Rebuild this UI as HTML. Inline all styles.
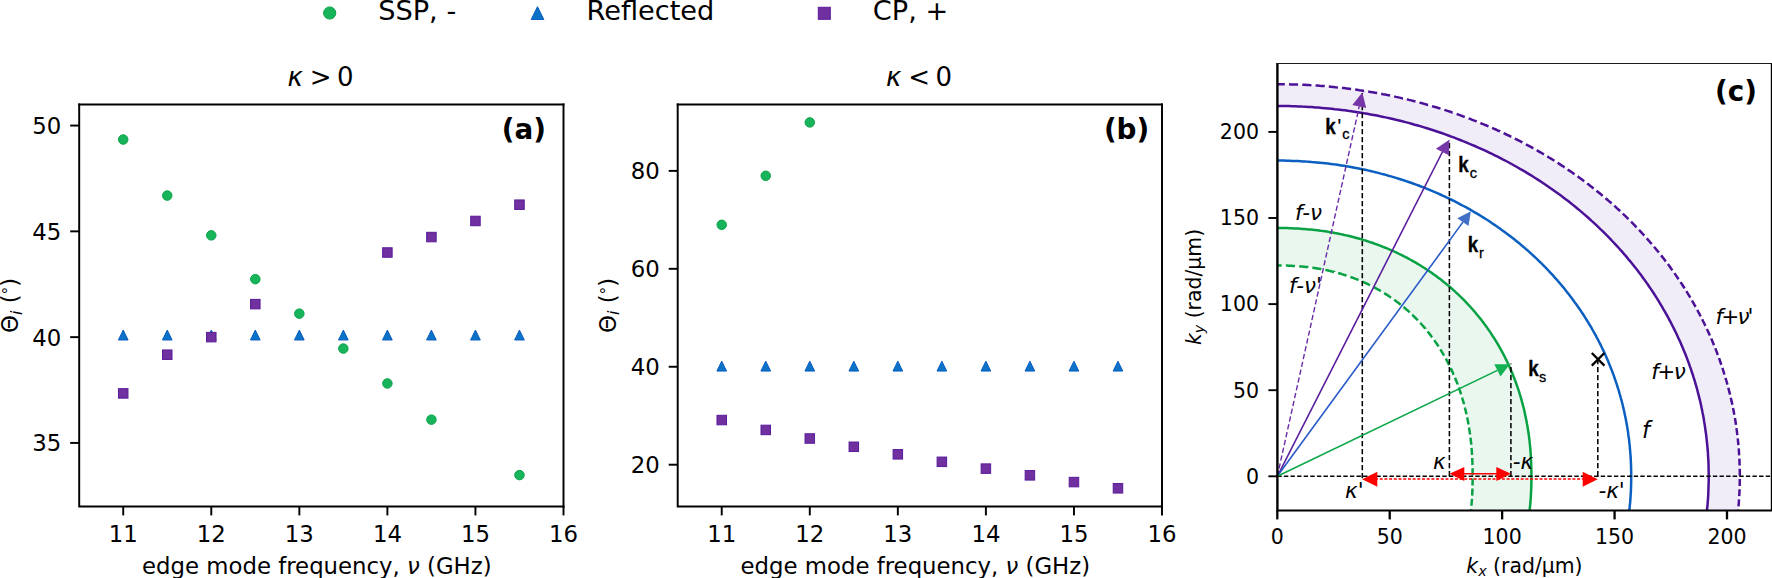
<!DOCTYPE html>
<html><head><meta charset="utf-8"><title>figure</title>
<style>html,body{margin:0;padding:0;background:#fff;overflow:hidden}svg{display:block}text{font-family:"DejaVu Sans", "Liberation Sans", sans-serif;}</style>
</head><body>
<svg width="1772" height="578" viewBox="0 0 1772 578">
<rect width="1772" height="578" fill="#fff"/>
<circle cx="329.70" cy="13.00" r="6.10" fill="#18b45c" stroke="#0aa347" stroke-width="1"/>
<text x="378.20" y="20.40" font-size="27.2" text-anchor="start" font-weight="normal" font-style="normal" fill="#000" >SSP, -</text>
<path d="M537.50 6.65 L543.80 19.45 L531.20 19.45 Z" fill="#0b72c8" stroke="#0a5cc0" stroke-width="1" stroke-linejoin="round"/>
<text x="586.50" y="20.40" font-size="27.2" text-anchor="start" font-weight="normal" font-style="normal" fill="#000" >Reflected</text>
<rect x="818.30" y="7.30" width="12.00" height="12.00" fill="#7030a0" stroke="#591b9b" stroke-width="1"/>
<text x="872.80" y="20.40" font-size="27.2" text-anchor="start" font-weight="normal" font-style="normal" fill="#000" >CP, +</text>
<circle cx="123.23" cy="139.52" r="4.75" fill="#18b45c" stroke="#0aa347" stroke-width="1"/>
<circle cx="167.25" cy="195.59" r="4.75" fill="#18b45c" stroke="#0aa347" stroke-width="1"/>
<circle cx="211.28" cy="235.37" r="4.75" fill="#18b45c" stroke="#0aa347" stroke-width="1"/>
<circle cx="255.31" cy="279.16" r="4.75" fill="#18b45c" stroke="#0aa347" stroke-width="1"/>
<circle cx="299.34" cy="313.65" r="4.75" fill="#18b45c" stroke="#0aa347" stroke-width="1"/>
<circle cx="343.36" cy="348.56" r="4.75" fill="#18b45c" stroke="#0aa347" stroke-width="1"/>
<circle cx="387.39" cy="383.47" r="4.75" fill="#18b45c" stroke="#0aa347" stroke-width="1"/>
<circle cx="431.42" cy="419.65" r="4.75" fill="#18b45c" stroke="#0aa347" stroke-width="1"/>
<circle cx="519.47" cy="475.09" r="4.75" fill="#18b45c" stroke="#0aa347" stroke-width="1"/>
<path d="M123.23 330.08 L128.08 339.98 L118.38 339.98 Z" fill="#0b72c8" stroke="#0a5cc0" stroke-width="1" stroke-linejoin="round"/>
<path d="M167.25 330.08 L172.10 339.98 L162.40 339.98 Z" fill="#0b72c8" stroke="#0a5cc0" stroke-width="1" stroke-linejoin="round"/>
<path d="M211.28 330.08 L216.13 339.98 L206.43 339.98 Z" fill="#0b72c8" stroke="#0a5cc0" stroke-width="1" stroke-linejoin="round"/>
<path d="M255.31 330.08 L260.16 339.98 L250.46 339.98 Z" fill="#0b72c8" stroke="#0a5cc0" stroke-width="1" stroke-linejoin="round"/>
<path d="M299.34 330.08 L304.19 339.98 L294.49 339.98 Z" fill="#0b72c8" stroke="#0a5cc0" stroke-width="1" stroke-linejoin="round"/>
<path d="M343.36 330.08 L348.21 339.98 L338.51 339.98 Z" fill="#0b72c8" stroke="#0a5cc0" stroke-width="1" stroke-linejoin="round"/>
<path d="M387.39 330.08 L392.24 339.98 L382.54 339.98 Z" fill="#0b72c8" stroke="#0a5cc0" stroke-width="1" stroke-linejoin="round"/>
<path d="M431.42 330.08 L436.27 339.98 L426.57 339.98 Z" fill="#0b72c8" stroke="#0a5cc0" stroke-width="1" stroke-linejoin="round"/>
<path d="M475.45 330.08 L480.30 339.98 L470.60 339.98 Z" fill="#0b72c8" stroke="#0a5cc0" stroke-width="1" stroke-linejoin="round"/>
<path d="M519.47 330.08 L524.32 339.98 L514.62 339.98 Z" fill="#0b72c8" stroke="#0a5cc0" stroke-width="1" stroke-linejoin="round"/>
<rect x="118.48" y="388.67" width="9.50" height="9.50" fill="#7030a0" stroke="#591b9b" stroke-width="1"/>
<rect x="162.50" y="349.95" width="9.50" height="9.50" fill="#7030a0" stroke="#591b9b" stroke-width="1"/>
<rect x="206.53" y="332.39" width="9.50" height="9.50" fill="#7030a0" stroke="#591b9b" stroke-width="1"/>
<rect x="250.56" y="299.38" width="9.50" height="9.50" fill="#7030a0" stroke="#591b9b" stroke-width="1"/>
<rect x="382.64" y="247.76" width="9.50" height="9.50" fill="#7030a0" stroke="#591b9b" stroke-width="1"/>
<rect x="426.67" y="232.31" width="9.50" height="9.50" fill="#7030a0" stroke="#591b9b" stroke-width="1"/>
<rect x="470.70" y="216.23" width="9.50" height="9.50" fill="#7030a0" stroke="#591b9b" stroke-width="1"/>
<rect x="514.72" y="199.94" width="9.50" height="9.50" fill="#7030a0" stroke="#591b9b" stroke-width="1"/>
<path d="M79.2 104.4 L79.2 506.4 L563.5 506.4" fill="none" stroke="#000" stroke-width="1.95" stroke-linecap="square"/>
<path d="M563.5 506.4 L563.5 104.4" fill="none" stroke="#000" stroke-width="1.95" stroke-linecap="square"/>
<path d="M79.2 104.4 L563.5 104.4" fill="none" stroke="#000" stroke-width="1.95" stroke-linecap="square"/>
<path d="M123.23 506.4 L123.23 515.4" stroke="#000" stroke-width="1.95"/>
<text x="123.23" y="541.90" font-size="22.8" text-anchor="middle" font-weight="normal" font-style="normal" fill="#000" >11</text>
<path d="M211.28 506.4 L211.28 515.4" stroke="#000" stroke-width="1.95"/>
<text x="211.28" y="541.90" font-size="22.8" text-anchor="middle" font-weight="normal" font-style="normal" fill="#000" >12</text>
<path d="M299.34 506.4 L299.34 515.4" stroke="#000" stroke-width="1.95"/>
<text x="299.34" y="541.90" font-size="22.8" text-anchor="middle" font-weight="normal" font-style="normal" fill="#000" >13</text>
<path d="M387.39 506.4 L387.39 515.4" stroke="#000" stroke-width="1.95"/>
<text x="387.39" y="541.90" font-size="22.8" text-anchor="middle" font-weight="normal" font-style="normal" fill="#000" >14</text>
<path d="M475.45 506.4 L475.45 515.4" stroke="#000" stroke-width="1.95"/>
<text x="475.45" y="541.90" font-size="22.8" text-anchor="middle" font-weight="normal" font-style="normal" fill="#000" >15</text>
<path d="M563.50 506.4 L563.50 515.4" stroke="#000" stroke-width="1.95"/>
<text x="563.50" y="541.90" font-size="22.8" text-anchor="middle" font-weight="normal" font-style="normal" fill="#000" >16</text>
<path d="M79.2 442.93 L70.2 442.93" stroke="#000" stroke-width="1.95"/>
<text x="61.20" y="451.33" font-size="22.8" text-anchor="end" font-weight="normal" font-style="normal" fill="#000" >35</text>
<path d="M79.2 337.14 L70.2 337.14" stroke="#000" stroke-width="1.95"/>
<text x="61.20" y="345.54" font-size="22.8" text-anchor="end" font-weight="normal" font-style="normal" fill="#000" >40</text>
<path d="M79.2 231.35 L70.2 231.35" stroke="#000" stroke-width="1.95"/>
<text x="61.20" y="239.75" font-size="22.8" text-anchor="end" font-weight="normal" font-style="normal" fill="#000" >45</text>
<path d="M79.2 125.56 L70.2 125.56" stroke="#000" stroke-width="1.95"/>
<text x="61.20" y="133.96" font-size="22.8" text-anchor="end" font-weight="normal" font-style="normal" fill="#000" >50</text>
<text x="0.00" y="86.30" font-size="26" text-anchor="start" font-weight="normal" font-style="normal" fill="#000" ><tspan x="287.5" font-style="italic">κ</tspan><tspan x="309.8">&gt;</tspan><tspan x="337.0">0</tspan></text>
<text x="546.00" y="139.20" font-size="27.8" text-anchor="end" font-weight="bold" font-style="normal" fill="#000" >(a)</text>
<text x="316.85" y="573.50" font-size="22.8" text-anchor="middle" font-weight="normal" font-style="normal" fill="#000" >edge mode frequency, <tspan font-style="italic">ν</tspan> (GHz)</text>
<g transform="translate(17.8,305.40) rotate(-90)">
<text x="0.00" y="0.00" font-size="22.8" text-anchor="middle" font-weight="normal" font-style="normal" fill="#000" >Θ<tspan font-style="italic" font-size="16" dy="3.8">i</tspan><tspan dy="-3.8"> (</tspan><tspan font-size="15.5" dy="-3.7">°</tspan><tspan dy="3.7">)</tspan></text>
</g>
<circle cx="721.73" cy="224.80" r="4.75" fill="#18b45c" stroke="#0aa347" stroke-width="1"/>
<circle cx="765.75" cy="175.78" r="4.75" fill="#18b45c" stroke="#0aa347" stroke-width="1"/>
<circle cx="809.78" cy="122.40" r="4.75" fill="#18b45c" stroke="#0aa347" stroke-width="1"/>
<path d="M721.73 361.17 L726.58 371.07 L716.88 371.07 Z" fill="#0b72c8" stroke="#0a5cc0" stroke-width="1" stroke-linejoin="round"/>
<path d="M765.75 361.17 L770.60 371.07 L760.90 371.07 Z" fill="#0b72c8" stroke="#0a5cc0" stroke-width="1" stroke-linejoin="round"/>
<path d="M809.78 361.17 L814.63 371.07 L804.93 371.07 Z" fill="#0b72c8" stroke="#0a5cc0" stroke-width="1" stroke-linejoin="round"/>
<path d="M853.81 361.17 L858.66 371.07 L848.96 371.07 Z" fill="#0b72c8" stroke="#0a5cc0" stroke-width="1" stroke-linejoin="round"/>
<path d="M897.84 361.17 L902.69 371.07 L892.99 371.07 Z" fill="#0b72c8" stroke="#0a5cc0" stroke-width="1" stroke-linejoin="round"/>
<path d="M941.86 361.17 L946.71 371.07 L937.01 371.07 Z" fill="#0b72c8" stroke="#0a5cc0" stroke-width="1" stroke-linejoin="round"/>
<path d="M985.89 361.17 L990.74 371.07 L981.04 371.07 Z" fill="#0b72c8" stroke="#0a5cc0" stroke-width="1" stroke-linejoin="round"/>
<path d="M1029.92 361.17 L1034.77 371.07 L1025.07 371.07 Z" fill="#0b72c8" stroke="#0a5cc0" stroke-width="1" stroke-linejoin="round"/>
<path d="M1073.95 361.17 L1078.80 371.07 L1069.10 371.07 Z" fill="#0b72c8" stroke="#0a5cc0" stroke-width="1" stroke-linejoin="round"/>
<path d="M1117.97 361.17 L1122.82 371.07 L1113.12 371.07 Z" fill="#0b72c8" stroke="#0a5cc0" stroke-width="1" stroke-linejoin="round"/>
<rect x="716.98" y="415.29" width="9.50" height="9.50" fill="#7030a0" stroke="#591b9b" stroke-width="1"/>
<rect x="761.00" y="425.18" width="9.50" height="9.50" fill="#7030a0" stroke="#591b9b" stroke-width="1"/>
<rect x="805.03" y="433.75" width="9.50" height="9.50" fill="#7030a0" stroke="#591b9b" stroke-width="1"/>
<rect x="849.06" y="442.03" width="9.50" height="9.50" fill="#7030a0" stroke="#591b9b" stroke-width="1"/>
<rect x="893.09" y="449.57" width="9.50" height="9.50" fill="#7030a0" stroke="#591b9b" stroke-width="1"/>
<rect x="937.11" y="457.06" width="9.50" height="9.50" fill="#7030a0" stroke="#591b9b" stroke-width="1"/>
<rect x="981.14" y="463.87" width="9.50" height="9.50" fill="#7030a0" stroke="#591b9b" stroke-width="1"/>
<rect x="1025.17" y="470.58" width="9.50" height="9.50" fill="#7030a0" stroke="#591b9b" stroke-width="1"/>
<rect x="1069.20" y="477.33" width="9.50" height="9.50" fill="#7030a0" stroke="#591b9b" stroke-width="1"/>
<rect x="1113.22" y="483.55" width="9.50" height="9.50" fill="#7030a0" stroke="#591b9b" stroke-width="1"/>
<path d="M677.7 104.4 L677.7 506.4 L1162.0 506.4" fill="none" stroke="#000" stroke-width="1.95" stroke-linecap="square"/>
<path d="M1162.0 506.4 L1162.0 104.4" fill="none" stroke="#000" stroke-width="1.95" stroke-linecap="square"/>
<path d="M677.7 104.4 L1162.0 104.4" fill="none" stroke="#000" stroke-width="1.95" stroke-linecap="square"/>
<path d="M721.73 506.4 L721.73 515.4" stroke="#000" stroke-width="1.95"/>
<text x="721.73" y="541.90" font-size="22.8" text-anchor="middle" font-weight="normal" font-style="normal" fill="#000" >11</text>
<path d="M809.78 506.4 L809.78 515.4" stroke="#000" stroke-width="1.95"/>
<text x="809.78" y="541.90" font-size="22.8" text-anchor="middle" font-weight="normal" font-style="normal" fill="#000" >12</text>
<path d="M897.84 506.4 L897.84 515.4" stroke="#000" stroke-width="1.95"/>
<text x="897.84" y="541.90" font-size="22.8" text-anchor="middle" font-weight="normal" font-style="normal" fill="#000" >13</text>
<path d="M985.89 506.4 L985.89 515.4" stroke="#000" stroke-width="1.95"/>
<text x="985.89" y="541.90" font-size="22.8" text-anchor="middle" font-weight="normal" font-style="normal" fill="#000" >14</text>
<path d="M1073.95 506.4 L1073.95 515.4" stroke="#000" stroke-width="1.95"/>
<text x="1073.95" y="541.90" font-size="22.8" text-anchor="middle" font-weight="normal" font-style="normal" fill="#000" >15</text>
<path d="M1162.00 506.4 L1162.00 515.4" stroke="#000" stroke-width="1.95"/>
<text x="1162.00" y="541.90" font-size="22.8" text-anchor="middle" font-weight="normal" font-style="normal" fill="#000" >16</text>
<path d="M677.7 464.70 L668.7 464.70" stroke="#000" stroke-width="1.95"/>
<text x="659.70" y="473.10" font-size="22.8" text-anchor="end" font-weight="normal" font-style="normal" fill="#000" >20</text>
<path d="M677.7 366.76 L668.7 366.76" stroke="#000" stroke-width="1.95"/>
<text x="659.70" y="375.16" font-size="22.8" text-anchor="end" font-weight="normal" font-style="normal" fill="#000" >40</text>
<path d="M677.7 268.82 L668.7 268.82" stroke="#000" stroke-width="1.95"/>
<text x="659.70" y="277.22" font-size="22.8" text-anchor="end" font-weight="normal" font-style="normal" fill="#000" >60</text>
<path d="M677.7 170.88 L668.7 170.88" stroke="#000" stroke-width="1.95"/>
<text x="659.70" y="179.28" font-size="22.8" text-anchor="end" font-weight="normal" font-style="normal" fill="#000" >80</text>
<text x="0.00" y="86.30" font-size="26" text-anchor="start" font-weight="normal" font-style="normal" fill="#000" ><tspan x="886.0" font-style="italic">κ</tspan><tspan x="908.3">&lt;</tspan><tspan x="935.5">0</tspan></text>
<text x="1149.20" y="139.20" font-size="27.8" text-anchor="end" font-weight="bold" font-style="normal" fill="#000" >(b)</text>
<text x="915.35" y="573.50" font-size="22.8" text-anchor="middle" font-weight="normal" font-style="normal" fill="#000" >edge mode frequency, <tspan font-style="italic">ν</tspan> (GHz)</text>
<g transform="translate(615.6,305.40) rotate(-90)">
<text x="0.00" y="0.00" font-size="22.8" text-anchor="middle" font-weight="normal" font-style="normal" fill="#000" >Θ<tspan font-style="italic" font-size="16" dy="3.8">i</tspan><tspan dy="-3.8"> (</tspan><tspan font-size="15.5" dy="-3.7">°</tspan><tspan dy="3.7">)</tspan></text>
</g>
<clipPath id="clipc"><rect x="1277.4" y="63.5" width="494.5999999999999" height="447.0"/></clipPath>
<g clip-path="url(#clipc)">
<path d="M1270.8 228.0 L1273.2 228.0 L1275.6 228.0 L1278.3 228.0 L1280.7 228.0 L1283.1 228.0 L1285.4 228.1 L1287.6 228.1 L1289.8 228.2 L1292.0 228.3 L1294.2 228.4 L1296.3 228.5 L1298.4 228.6 L1300.5 228.7 L1302.6 228.9 L1304.7 229.0 L1306.8 229.2 L1308.8 229.4 L1310.9 229.6 L1312.9 229.8 L1315.0 230.0 L1317.0 230.2 L1319.0 230.5 L1321.0 230.8 L1323.0 231.0 L1325.0 231.3 L1327.0 231.6 L1328.9 231.9 L1330.9 232.3 L1332.8 232.6 L1334.8 233.0 L1336.7 233.3 L1338.7 233.7 L1340.6 234.1 L1342.5 234.5 L1344.4 235.0 L1346.3 235.4 L1348.2 235.8 L1350.1 236.3 L1352.0 236.8 L1353.9 237.3 L1355.8 237.8 L1357.6 238.3 L1359.5 238.8 L1361.3 239.3 L1363.2 239.9 L1365.0 240.4 L1366.8 241.0 L1368.6 241.6 L1370.5 242.2 L1372.3 242.8 L1374.1 243.5 L1375.8 244.1 L1377.6 244.7 L1379.4 245.4 L1381.2 246.1 L1382.9 246.8 L1384.7 247.5 L1386.4 248.2 L1388.2 248.9 L1389.9 249.7 L1391.6 250.4 L1393.3 251.2 L1395.0 251.9 L1396.7 252.7 L1398.4 253.5 L1400.1 254.4 L1401.8 255.2 L1403.5 256.0 L1405.1 256.9 L1406.8 257.7 L1408.4 258.6 L1410.0 259.5 L1411.7 260.4 L1413.3 261.3 L1414.9 262.2 L1416.5 263.1 L1418.1 264.1 L1419.7 265.0 L1421.2 266.0 L1422.8 267.0 L1424.4 268.0 L1425.9 269.0 L1427.4 270.0 L1429.0 271.0 L1430.5 272.1 L1432.0 273.1 L1433.5 274.2 L1435.0 275.2 L1436.5 276.3 L1437.9 277.4 L1439.4 278.5 L1440.9 279.6 L1442.3 280.7 L1443.7 281.9 L1445.2 283.0 L1446.6 284.2 L1448.0 285.4 L1449.4 286.5 L1450.8 287.7 L1452.1 288.9 L1453.5 290.1 L1454.9 291.4 L1456.2 292.6 L1457.5 293.8 L1458.9 295.1 L1460.2 296.4 L1461.5 297.6 L1462.8 298.9 L1464.1 300.2 L1465.3 301.5 L1466.6 302.8 L1467.8 304.1 L1469.1 305.5 L1470.3 306.8 L1471.5 308.2 L1472.7 309.5 L1473.9 310.9 L1475.1 312.3 L1476.3 313.7 L1477.4 315.1 L1478.6 316.5 L1479.7 317.9 L1480.9 319.3 L1482.0 320.8 L1483.1 322.2 L1484.2 323.7 L1485.3 325.2 L1486.3 326.6 L1487.4 328.1 L1488.4 329.6 L1489.5 331.1 L1490.5 332.6 L1491.5 334.1 L1492.5 335.7 L1493.5 337.2 L1494.5 338.8 L1495.5 340.3 L1496.4 341.9 L1497.4 343.5 L1498.3 345.0 L1499.2 346.6 L1500.1 348.2 L1501.0 349.8 L1501.9 351.4 L1502.8 353.1 L1503.6 354.7 L1504.5 356.3 L1505.3 358.0 L1506.1 359.6 L1506.9 361.3 L1507.7 362.9 L1508.5 364.6 L1509.3 366.3 L1510.0 368.0 L1510.8 369.7 L1511.5 371.4 L1512.2 373.1 L1512.9 374.8 L1513.6 376.6 L1514.3 378.3 L1514.9 380.0 L1515.6 381.8 L1516.2 383.5 L1516.9 385.3 L1517.5 387.1 L1518.1 388.9 L1518.7 390.6 L1519.3 392.4 L1519.8 394.2 L1520.4 396.0 L1520.9 397.9 L1521.4 399.7 L1521.9 401.5 L1522.4 403.3 L1522.9 405.2 L1523.4 407.0 L1523.9 408.9 L1524.3 410.7 L1524.7 412.6 L1525.1 414.5 L1525.5 416.4 L1525.9 418.3 L1526.3 420.2 L1526.7 422.1 L1527.0 424.0 L1527.4 425.9 L1527.7 427.8 L1528.0 429.8 L1528.3 431.7 L1528.6 433.6 L1528.9 435.6 L1529.1 437.6 L1529.4 439.5 L1529.6 441.5 L1529.8 443.5 L1530.0 445.5 L1530.2 447.5 L1530.4 449.6 L1530.5 451.6 L1530.7 453.6 L1530.8 455.7 L1530.9 457.8 L1531.0 459.9 L1531.1 462.0 L1531.2 464.1 L1531.3 466.3 L1531.3 468.5 L1531.4 470.7 L1531.4 473.0 L1531.4 475.4 L1531.4 478.0 L1531.4 480.4 L1531.4 482.7 L1531.3 484.9 L1531.3 487.0 L1531.2 489.2 L1531.1 491.3 L1531.0 493.4 L1530.9 495.5 L1530.8 497.6 L1530.6 499.6 L1530.5 501.7 L1530.3 503.7 L1530.1 505.7 L1529.9 507.7 L1529.7 509.7 L1529.5 511.7 L1529.3 513.7 L1529.0 515.7 L1528.8 517.6 L1528.5 519.6 L1528.2 521.5 L1527.9 523.5 L1527.6 525.4 L1527.3 527.3 L1526.9 529.3 L1526.6 531.2 L1526.2 533.1 L1525.8 535.0 L1525.4 536.9 L1525.0 538.7 L1524.6 540.6 L1524.1 542.5 L1523.7 544.3 L1523.2 546.2 L1522.8 548.0 L1522.3 549.9 L1521.8 551.7 L1521.3 553.5 L1520.7 555.3 L1464.7 545.9 L1465.0 544.3 L1465.4 542.8 L1465.8 541.2 L1466.2 539.7 L1466.5 538.1 L1466.9 536.5 L1467.2 534.9 L1467.5 533.3 L1467.8 531.7 L1468.1 530.1 L1468.4 528.4 L1468.7 526.8 L1469.0 525.2 L1469.3 523.5 L1469.5 521.9 L1469.8 520.2 L1470.0 518.5 L1470.2 516.9 L1470.4 515.2 L1470.6 513.5 L1470.8 511.7 L1471.0 510.0 L1471.2 508.3 L1471.4 506.6 L1471.5 504.8 L1471.7 503.0 L1471.8 501.3 L1471.9 499.5 L1472.0 497.7 L1472.1 495.8 L1472.2 494.0 L1472.3 492.1 L1472.4 490.2 L1472.4 488.3 L1472.5 486.4 L1472.5 484.4 L1472.6 482.4 L1472.6 480.3 L1472.6 478.0 L1472.6 475.4 L1472.6 473.1 L1472.6 470.9 L1472.5 468.9 L1472.5 466.9 L1472.5 464.9 L1472.4 463.0 L1472.3 461.1 L1472.2 459.2 L1472.2 457.4 L1472.1 455.5 L1471.9 453.7 L1471.8 451.9 L1471.7 450.2 L1471.6 448.4 L1471.4 446.6 L1471.2 444.9 L1471.1 443.1 L1470.9 441.4 L1470.7 439.7 L1470.5 438.0 L1470.3 436.3 L1470.1 434.6 L1469.8 432.9 L1469.6 431.3 L1469.3 429.6 L1469.1 428.0 L1468.8 426.3 L1468.5 424.7 L1468.2 423.1 L1467.9 421.5 L1467.6 419.8 L1467.3 418.2 L1467.0 416.6 L1466.6 415.1 L1466.3 413.5 L1465.9 411.9 L1465.6 410.3 L1465.2 408.8 L1464.8 407.2 L1464.4 405.7 L1464.0 404.1 L1463.6 402.6 L1463.1 401.1 L1462.7 399.6 L1462.2 398.0 L1461.8 396.5 L1461.3 395.0 L1460.8 393.6 L1460.3 392.1 L1459.8 390.6 L1459.3 389.1 L1458.8 387.7 L1458.3 386.2 L1457.8 384.8 L1457.2 383.3 L1456.7 381.9 L1456.1 380.5 L1455.5 379.0 L1454.9 377.6 L1454.3 376.2 L1453.7 374.8 L1453.1 373.4 L1452.5 372.1 L1451.9 370.7 L1451.2 369.3 L1450.6 367.9 L1449.9 366.6 L1449.3 365.2 L1448.6 363.9 L1447.9 362.6 L1447.2 361.2 L1446.5 359.9 L1445.8 358.6 L1445.1 357.3 L1444.3 356.0 L1443.6 354.7 L1442.8 353.5 L1442.1 352.2 L1441.3 350.9 L1440.5 349.7 L1439.8 348.4 L1439.0 347.2 L1438.2 345.9 L1437.4 344.7 L1436.5 343.5 L1435.7 342.3 L1434.9 341.1 L1434.0 339.9 L1433.2 338.7 L1432.3 337.5 L1431.4 336.4 L1430.6 335.2 L1429.7 334.1 L1428.8 332.9 L1427.9 331.8 L1426.9 330.7 L1426.0 329.5 L1425.1 328.4 L1424.2 327.3 L1423.2 326.2 L1422.3 325.2 L1421.3 324.1 L1420.3 323.0 L1419.3 322.0 L1418.3 320.9 L1417.4 319.9 L1416.4 318.8 L1415.3 317.8 L1414.3 316.8 L1413.3 315.8 L1412.3 314.8 L1411.2 313.8 L1410.2 312.8 L1409.1 311.9 L1408.0 310.9 L1407.0 310.0 L1405.9 309.0 L1404.8 308.1 L1403.7 307.2 L1402.6 306.2 L1401.5 305.3 L1400.4 304.4 L1399.2 303.6 L1398.1 302.7 L1397.0 301.8 L1395.8 301.0 L1394.6 300.1 L1393.5 299.3 L1392.3 298.4 L1391.1 297.6 L1390.0 296.8 L1388.8 296.0 L1387.6 295.2 L1386.4 294.5 L1385.1 293.7 L1383.9 292.9 L1382.7 292.2 L1381.5 291.4 L1380.2 290.7 L1379.0 290.0 L1377.7 289.3 L1376.5 288.6 L1375.2 287.9 L1373.9 287.2 L1372.6 286.5 L1371.3 285.9 L1370.0 285.2 L1368.7 284.6 L1367.4 283.9 L1366.1 283.3 L1364.8 282.7 L1363.5 282.1 L1362.1 281.5 L1360.8 281.0 L1359.4 280.4 L1358.1 279.8 L1356.7 279.3 L1355.4 278.7 L1354.0 278.2 L1352.6 277.7 L1351.2 277.2 L1349.8 276.7 L1348.4 276.2 L1347.0 275.7 L1345.6 275.3 L1344.2 274.8 L1342.8 274.4 L1341.3 273.9 L1339.9 273.5 L1338.5 273.1 L1337.0 272.7 L1335.5 272.3 L1334.1 271.9 L1332.6 271.6 L1331.1 271.2 L1329.6 270.9 L1328.1 270.5 L1326.6 270.2 L1325.1 269.9 L1323.6 269.6 L1322.1 269.3 L1320.6 269.0 L1319.0 268.7 L1317.5 268.5 L1315.9 268.2 L1314.4 268.0 L1312.8 267.8 L1311.2 267.6 L1309.6 267.3 L1308.1 267.1 L1306.4 267.0 L1304.8 266.8 L1303.2 266.6 L1301.6 266.5 L1299.9 266.3 L1298.2 266.2 L1296.6 266.1 L1294.9 266.0 L1293.2 265.9 L1291.4 265.8 L1289.7 265.7 L1287.9 265.7 L1286.1 265.6 L1284.2 265.6 L1282.3 265.5 L1280.3 265.5 L1278.2 265.5 L1275.8 265.5 L1273.7 265.5 L1271.7 265.5 Z" fill="#e9f7ef"/>
<path d="M1267.7 84.3 L1271.3 84.2 L1274.9 84.2 L1278.6 84.2 L1282.3 84.2 L1285.9 84.3 L1289.5 84.3 L1293.1 84.4 L1296.6 84.5 L1300.2 84.6 L1303.8 84.8 L1307.3 85.0 L1310.9 85.2 L1314.4 85.4 L1317.9 85.6 L1321.5 85.9 L1325.0 86.2 L1328.5 86.5 L1332.0 86.8 L1335.6 87.2 L1339.1 87.5 L1342.6 87.9 L1346.1 88.4 L1349.6 88.8 L1353.0 89.3 L1356.5 89.7 L1360.0 90.2 L1363.4 90.8 L1366.9 91.3 L1370.4 91.9 L1373.8 92.5 L1377.2 93.1 L1380.7 93.7 L1384.1 94.4 L1387.5 95.1 L1390.9 95.8 L1394.3 96.5 L1397.7 97.2 L1401.1 98.0 L1404.5 98.8 L1407.9 99.6 L1411.2 100.4 L1414.6 101.3 L1417.9 102.1 L1421.3 103.0 L1424.6 104.0 L1427.9 104.9 L1431.2 105.8 L1434.5 106.8 L1437.8 107.8 L1441.1 108.8 L1444.4 109.9 L1447.7 110.9 L1450.9 112.0 L1454.1 113.1 L1457.4 114.3 L1460.6 115.4 L1463.8 116.6 L1467.0 117.7 L1470.2 118.9 L1473.4 120.2 L1476.5 121.4 L1479.7 122.7 L1482.8 124.0 L1486.0 125.3 L1489.1 126.6 L1492.2 127.9 L1495.3 129.3 L1498.3 130.7 L1501.4 132.1 L1504.5 133.5 L1507.5 135.0 L1510.5 136.4 L1513.5 137.9 L1516.5 139.4 L1519.5 140.9 L1522.5 142.5 L1525.4 144.0 L1528.4 145.6 L1531.3 147.2 L1534.2 148.8 L1537.1 150.5 L1540.0 152.1 L1542.9 153.8 L1545.7 155.5 L1548.6 157.2 L1551.4 158.9 L1554.2 160.6 L1557.0 162.4 L1559.7 164.2 L1562.5 166.0 L1565.2 167.8 L1568.0 169.6 L1570.7 171.5 L1573.4 173.3 L1576.0 175.2 L1578.7 177.1 L1581.3 179.1 L1583.9 181.0 L1586.5 182.9 L1589.1 184.9 L1591.7 186.9 L1594.2 188.9 L1596.8 190.9 L1599.3 193.0 L1601.8 195.0 L1604.3 197.1 L1606.7 199.2 L1609.2 201.3 L1611.6 203.4 L1614.0 205.5 L1616.4 207.6 L1618.7 209.8 L1621.1 212.0 L1623.4 214.2 L1625.7 216.4 L1628.0 218.6 L1630.2 220.8 L1632.5 223.1 L1634.7 225.4 L1636.9 227.6 L1639.1 229.9 L1641.2 232.2 L1643.4 234.6 L1645.5 236.9 L1647.6 239.3 L1649.7 241.6 L1651.7 244.0 L1653.8 246.4 L1655.8 248.8 L1657.8 251.2 L1659.7 253.6 L1661.7 256.1 L1663.6 258.5 L1665.5 261.0 L1667.4 263.5 L1669.3 266.0 L1671.1 268.5 L1672.9 271.0 L1674.7 273.5 L1676.5 276.1 L1678.2 278.6 L1680.0 281.2 L1681.7 283.8 L1683.3 286.4 L1685.0 289.0 L1686.6 291.6 L1688.2 294.2 L1689.8 296.8 L1691.4 299.5 L1692.9 302.1 L1694.4 304.8 L1695.9 307.4 L1697.4 310.1 L1698.8 312.8 L1700.3 315.5 L1701.7 318.2 L1703.0 321.0 L1704.4 323.7 L1705.7 326.4 L1707.0 329.2 L1708.3 331.9 L1709.5 334.7 L1710.8 337.5 L1712.0 340.3 L1713.1 343.0 L1714.3 345.8 L1715.4 348.7 L1716.5 351.5 L1717.6 354.3 L1718.7 357.1 L1719.7 360.0 L1720.7 362.8 L1721.7 365.7 L1722.6 368.5 L1723.5 371.4 L1724.4 374.3 L1725.3 377.1 L1726.2 380.0 L1727.0 382.9 L1727.8 385.8 L1728.6 388.7 L1729.3 391.6 L1730.0 394.5 L1730.7 397.5 L1731.4 400.4 L1732.1 403.3 L1732.7 406.3 L1733.3 409.2 L1733.9 412.2 L1734.4 415.1 L1734.9 418.1 L1735.4 421.0 L1735.9 424.0 L1736.3 427.0 L1736.7 429.9 L1737.1 432.9 L1737.5 435.9 L1737.8 438.9 L1738.1 441.9 L1738.4 444.9 L1738.7 447.9 L1738.9 450.9 L1739.1 453.9 L1739.3 456.9 L1739.4 460.0 L1739.6 463.0 L1739.7 466.0 L1739.7 469.1 L1739.8 472.2 L1739.8 475.2 L1739.8 478.4 L1739.8 481.5 L1739.7 484.5 L1739.6 487.6 L1739.5 490.6 L1739.4 493.6 L1739.2 496.7 L1739.0 499.7 L1738.8 502.7 L1738.6 505.7 L1738.3 508.7 L1738.0 511.7 L1737.7 514.7 L1737.4 517.7 L1737.0 520.7 L1736.6 523.6 L1736.2 526.6 L1735.7 529.6 L1735.2 532.6 L1734.7 535.5 L1734.2 538.5 L1733.7 541.4 L1733.1 544.4 L1732.5 547.3 L1731.9 550.2 L1731.2 553.2 L1730.5 556.1 L1729.8 559.0 L1729.1 561.9 L1728.3 564.8 L1727.5 567.7 L1726.7 570.6 L1725.9 573.5 L1725.0 576.4 L1724.1 579.3 L1723.2 582.2 L1722.3 585.0 L1721.3 587.9 L1720.4 590.7 L1719.3 593.6 L1689.6 587.1 L1690.6 584.4 L1691.5 581.7 L1692.4 579.0 L1693.3 576.3 L1694.1 573.6 L1694.9 570.9 L1695.7 568.1 L1696.5 565.4 L1697.3 562.7 L1698.0 559.9 L1698.7 557.2 L1699.4 554.4 L1700.0 551.7 L1700.7 548.9 L1701.3 546.1 L1701.9 543.4 L1702.4 540.6 L1703.0 537.8 L1703.5 535.0 L1704.0 532.2 L1704.5 529.4 L1704.9 526.6 L1705.3 523.8 L1705.7 521.0 L1706.1 518.2 L1706.4 515.4 L1706.7 512.6 L1707.0 509.7 L1707.3 506.9 L1707.6 504.1 L1707.8 501.2 L1708.0 498.4 L1708.2 495.5 L1708.3 492.7 L1708.4 489.8 L1708.5 486.9 L1708.6 484.1 L1708.7 481.2 L1708.7 478.3 L1708.7 475.3 L1708.7 472.4 L1708.6 469.5 L1708.6 466.6 L1708.5 463.7 L1708.4 460.9 L1708.2 458.0 L1708.0 455.2 L1707.9 452.3 L1707.6 449.5 L1707.4 446.6 L1707.1 443.8 L1706.8 441.0 L1706.5 438.2 L1706.2 435.3 L1705.8 432.5 L1705.4 429.7 L1705.0 426.9 L1704.6 424.1 L1704.1 421.3 L1703.7 418.5 L1703.2 415.7 L1702.6 412.9 L1702.1 410.2 L1701.5 407.4 L1700.9 404.6 L1700.3 401.8 L1699.6 399.1 L1698.9 396.3 L1698.2 393.6 L1697.5 390.8 L1696.8 388.1 L1696.0 385.4 L1695.2 382.6 L1694.4 379.9 L1693.5 377.2 L1692.7 374.5 L1691.8 371.8 L1690.9 369.1 L1689.9 366.4 L1689.0 363.7 L1688.0 361.1 L1687.0 358.4 L1686.0 355.8 L1684.9 353.1 L1683.8 350.5 L1682.7 347.8 L1681.6 345.2 L1680.5 342.6 L1679.3 340.0 L1678.1 337.4 L1676.9 334.8 L1675.7 332.2 L1674.4 329.6 L1673.1 327.0 L1671.8 324.5 L1670.5 321.9 L1669.1 319.4 L1667.8 316.8 L1666.4 314.3 L1665.0 311.8 L1663.5 309.3 L1662.1 306.8 L1660.6 304.3 L1659.1 301.8 L1657.6 299.4 L1656.0 296.9 L1654.5 294.5 L1652.9 292.0 L1651.3 289.6 L1649.6 287.2 L1648.0 284.8 L1646.3 282.4 L1644.6 280.0 L1642.9 277.7 L1641.2 275.3 L1639.4 273.0 L1637.6 270.6 L1635.8 268.3 L1634.0 266.0 L1632.2 263.7 L1630.3 261.4 L1628.4 259.2 L1626.6 256.9 L1624.6 254.7 L1622.7 252.4 L1620.7 250.2 L1618.8 248.0 L1616.8 245.8 L1614.7 243.6 L1612.7 241.5 L1610.7 239.3 L1608.6 237.2 L1606.5 235.0 L1604.4 232.9 L1602.3 230.8 L1600.1 228.8 L1597.9 226.7 L1595.8 224.6 L1593.6 222.6 L1591.3 220.6 L1589.1 218.5 L1586.8 216.5 L1584.6 214.6 L1582.3 212.6 L1580.0 210.6 L1577.6 208.7 L1575.3 206.8 L1572.9 204.9 L1570.6 203.0 L1568.2 201.1 L1565.7 199.3 L1563.3 197.4 L1560.9 195.6 L1558.4 193.8 L1555.9 192.0 L1553.4 190.2 L1550.9 188.4 L1548.4 186.7 L1545.9 185.0 L1543.3 183.2 L1540.7 181.5 L1538.2 179.9 L1535.6 178.2 L1532.9 176.5 L1530.3 174.9 L1527.7 173.3 L1525.0 171.7 L1522.3 170.1 L1519.6 168.6 L1516.9 167.0 L1514.2 165.5 L1511.5 164.0 L1508.8 162.5 L1506.0 161.0 L1503.2 159.6 L1500.4 158.1 L1497.6 156.7 L1494.8 155.3 L1492.0 153.9 L1489.2 152.6 L1486.3 151.2 L1483.5 149.9 L1480.6 148.6 L1477.7 147.3 L1474.8 146.0 L1471.9 144.8 L1469.0 143.6 L1466.1 142.3 L1463.1 141.2 L1460.2 140.0 L1457.2 138.8 L1454.3 137.7 L1451.3 136.6 L1448.3 135.5 L1445.3 134.4 L1442.3 133.3 L1439.2 132.3 L1436.2 131.3 L1433.2 130.3 L1430.1 129.3 L1427.0 128.3 L1424.0 127.4 L1420.9 126.4 L1417.8 125.5 L1414.7 124.7 L1411.6 123.8 L1408.5 122.9 L1405.4 122.1 L1402.2 121.3 L1399.1 120.5 L1396.0 119.8 L1392.8 119.0 L1389.6 118.3 L1386.5 117.6 L1383.3 116.9 L1380.1 116.3 L1376.9 115.6 L1373.7 115.0 L1370.5 114.4 L1367.3 113.8 L1364.1 113.3 L1360.9 112.7 L1357.7 112.2 L1354.4 111.7 L1351.2 111.2 L1347.9 110.8 L1344.7 110.3 L1341.4 109.9 L1338.2 109.5 L1334.9 109.2 L1331.6 108.8 L1328.4 108.5 L1325.1 108.2 L1321.8 107.9 L1318.5 107.6 L1315.2 107.4 L1311.9 107.1 L1308.6 106.9 L1305.3 106.7 L1302.0 106.6 L1298.7 106.4 L1295.3 106.3 L1292.0 106.2 L1288.7 106.1 L1285.3 106.1 L1281.9 106.0 L1278.5 106.0 L1275.1 106.0 L1271.7 106.0 L1268.3 106.1 Z" fill="#f1edf8"/>
<path d="M1269.7 160.7 L1272.6 160.6 L1275.4 160.6 L1278.4 160.6 L1281.2 160.6 L1284.1 160.6 L1286.9 160.7 L1289.7 160.8 L1292.4 160.9 L1295.2 161.0 L1298.0 161.1 L1300.7 161.2 L1303.5 161.4 L1306.2 161.6 L1309.0 161.7 L1311.7 162.0 L1314.4 162.2 L1317.1 162.4 L1319.9 162.7 L1322.6 163.0 L1325.3 163.3 L1328.0 163.6 L1330.7 163.9 L1333.3 164.3 L1336.0 164.6 L1338.7 165.0 L1341.4 165.4 L1344.0 165.8 L1346.7 166.3 L1349.4 166.7 L1352.0 167.2 L1354.6 167.7 L1357.3 168.2 L1359.9 168.7 L1362.5 169.3 L1365.2 169.8 L1367.8 170.4 L1370.4 171.0 L1373.0 171.6 L1375.6 172.3 L1378.2 172.9 L1380.7 173.6 L1383.3 174.2 L1385.9 174.9 L1388.4 175.7 L1391.0 176.4 L1393.5 177.1 L1396.1 177.9 L1398.6 178.7 L1401.1 179.5 L1403.6 180.3 L1406.1 181.1 L1408.6 182.0 L1411.1 182.8 L1413.6 183.7 L1416.1 184.6 L1418.5 185.5 L1421.0 186.5 L1423.4 187.4 L1425.9 188.4 L1428.3 189.4 L1430.7 190.4 L1433.1 191.4 L1435.5 192.4 L1437.9 193.4 L1440.3 194.5 L1442.7 195.6 L1445.0 196.7 L1447.4 197.8 L1449.7 198.9 L1452.0 200.0 L1454.4 201.2 L1456.7 202.4 L1459.0 203.6 L1461.2 204.8 L1463.5 206.0 L1465.8 207.2 L1468.0 208.4 L1470.3 209.7 L1472.5 211.0 L1474.7 212.3 L1477.0 213.6 L1479.2 214.9 L1481.3 216.2 L1483.5 217.6 L1485.7 219.0 L1487.8 220.3 L1490.0 221.7 L1492.1 223.2 L1494.2 224.6 L1496.3 226.0 L1498.4 227.5 L1500.5 228.9 L1502.5 230.4 L1504.6 231.9 L1506.6 233.4 L1508.6 234.9 L1510.7 236.5 L1512.6 238.0 L1514.6 239.6 L1516.6 241.2 L1518.6 242.8 L1520.5 244.4 L1522.4 246.0 L1524.3 247.6 L1526.2 249.3 L1528.1 250.9 L1530.0 252.6 L1531.9 254.3 L1533.7 256.0 L1535.5 257.7 L1537.3 259.4 L1539.1 261.1 L1540.9 262.9 L1542.7 264.6 L1544.4 266.4 L1546.2 268.2 L1547.9 270.0 L1549.6 271.8 L1551.3 273.6 L1553.0 275.4 L1554.6 277.3 L1556.3 279.1 L1557.9 281.0 L1559.5 282.8 L1561.1 284.7 L1562.7 286.6 L1564.3 288.5 L1565.8 290.5 L1567.3 292.4 L1568.8 294.3 L1570.3 296.3 L1571.8 298.2 L1573.3 300.2 L1574.7 302.2 L1576.2 304.2 L1577.6 306.2 L1579.0 308.2 L1580.4 310.2 L1581.7 312.3 L1583.1 314.3 L1584.4 316.3 L1585.7 318.4 L1587.0 320.5 L1588.3 322.6 L1589.5 324.6 L1590.8 326.7 L1592.0 328.8 L1593.2 331.0 L1594.4 333.1 L1595.6 335.2 L1596.7 337.4 L1597.9 339.5 L1599.0 341.7 L1600.1 343.8 L1601.2 346.0 L1602.2 348.2 L1603.3 350.4 L1604.3 352.6 L1605.3 354.8 L1606.3 357.0 L1607.3 359.2 L1608.2 361.4 L1609.1 363.7 L1610.0 365.9 L1610.9 368.2 L1611.8 370.4 L1612.7 372.7 L1613.5 374.9 L1614.3 377.2 L1615.1 379.5 L1615.9 381.8 L1616.7 384.1 L1617.4 386.4 L1618.1 388.7 L1618.9 391.0 L1619.5 393.3 L1620.2 395.6 L1620.8 398.0 L1621.5 400.3 L1622.1 402.7 L1622.7 405.0 L1623.2 407.4 L1623.8 409.7 L1624.3 412.1 L1624.8 414.4 L1625.3 416.8 L1625.8 419.2 L1626.2 421.6 L1626.7 424.0 L1627.1 426.4 L1627.5 428.8 L1627.9 431.2 L1628.2 433.6 L1628.5 436.0 L1628.9 438.4 L1629.2 440.8 L1629.4 443.2 L1629.7 445.7 L1629.9 448.1 L1630.1 450.5 L1630.3 453.0 L1630.5 455.4 L1630.7 457.9 L1630.8 460.4 L1630.9 462.8 L1631.0 465.3 L1631.1 467.8 L1631.1 470.3 L1631.2 472.9 L1631.2 475.4 L1631.2 478.0 L1631.2 480.6 L1631.1 483.1 L1631.1 485.6 L1631.0 488.1 L1630.9 490.6 L1630.8 493.0 L1630.6 495.5 L1630.5 498.0 L1630.3 500.4 L1630.1 502.9 L1629.8 505.3 L1629.6 507.7 L1629.3 510.2 L1629.1 512.6 L1628.8 515.0 L1628.4 517.4 L1628.1 519.8 L1627.7 522.2 L1627.4 524.6 L1627.0 527.0 L1626.5 529.4 L1626.1 531.8 L1625.6 534.2 L1625.2 536.6 L1624.7 538.9 L1624.1 541.3 L1623.6 543.7 L1623.1 546.0 L1622.5 548.4 L1621.9 550.7 L1621.3 553.1 L1620.6 555.4 L1620.0 557.7 L1619.3 560.0 L1618.6 562.4 L1617.9 564.7 L1617.2 567.0 L1616.4 569.3 L1615.7 571.6" fill="none" stroke="#0a5fc0" stroke-width="2.5"/>
<path d="M1270.8 228.0 L1273.2 228.0 L1275.6 228.0 L1278.3 228.0 L1280.7 228.0 L1283.1 228.0 L1285.4 228.1 L1287.6 228.1 L1289.8 228.2 L1292.0 228.3 L1294.2 228.4 L1296.3 228.5 L1298.4 228.6 L1300.5 228.7 L1302.6 228.9 L1304.7 229.0 L1306.8 229.2 L1308.8 229.4 L1310.9 229.6 L1312.9 229.8 L1315.0 230.0 L1317.0 230.2 L1319.0 230.5 L1321.0 230.8 L1323.0 231.0 L1325.0 231.3 L1327.0 231.6 L1328.9 231.9 L1330.9 232.3 L1332.8 232.6 L1334.8 233.0 L1336.7 233.3 L1338.7 233.7 L1340.6 234.1 L1342.5 234.5 L1344.4 235.0 L1346.3 235.4 L1348.2 235.8 L1350.1 236.3 L1352.0 236.8 L1353.9 237.3 L1355.8 237.8 L1357.6 238.3 L1359.5 238.8 L1361.3 239.3 L1363.2 239.9 L1365.0 240.4 L1366.8 241.0 L1368.6 241.6 L1370.5 242.2 L1372.3 242.8 L1374.1 243.5 L1375.8 244.1 L1377.6 244.7 L1379.4 245.4 L1381.2 246.1 L1382.9 246.8 L1384.7 247.5 L1386.4 248.2 L1388.2 248.9 L1389.9 249.7 L1391.6 250.4 L1393.3 251.2 L1395.0 251.9 L1396.7 252.7 L1398.4 253.5 L1400.1 254.4 L1401.8 255.2 L1403.5 256.0 L1405.1 256.9 L1406.8 257.7 L1408.4 258.6 L1410.0 259.5 L1411.7 260.4 L1413.3 261.3 L1414.9 262.2 L1416.5 263.1 L1418.1 264.1 L1419.7 265.0 L1421.2 266.0 L1422.8 267.0 L1424.4 268.0 L1425.9 269.0 L1427.4 270.0 L1429.0 271.0 L1430.5 272.1 L1432.0 273.1 L1433.5 274.2 L1435.0 275.2 L1436.5 276.3 L1437.9 277.4 L1439.4 278.5 L1440.9 279.6 L1442.3 280.7 L1443.7 281.9 L1445.2 283.0 L1446.6 284.2 L1448.0 285.4 L1449.4 286.5 L1450.8 287.7 L1452.1 288.9 L1453.5 290.1 L1454.9 291.4 L1456.2 292.6 L1457.5 293.8 L1458.9 295.1 L1460.2 296.4 L1461.5 297.6 L1462.8 298.9 L1464.1 300.2 L1465.3 301.5 L1466.6 302.8 L1467.8 304.1 L1469.1 305.5 L1470.3 306.8 L1471.5 308.2 L1472.7 309.5 L1473.9 310.9 L1475.1 312.3 L1476.3 313.7 L1477.4 315.1 L1478.6 316.5 L1479.7 317.9 L1480.9 319.3 L1482.0 320.8 L1483.1 322.2 L1484.2 323.7 L1485.3 325.2 L1486.3 326.6 L1487.4 328.1 L1488.4 329.6 L1489.5 331.1 L1490.5 332.6 L1491.5 334.1 L1492.5 335.7 L1493.5 337.2 L1494.5 338.8 L1495.5 340.3 L1496.4 341.9 L1497.4 343.5 L1498.3 345.0 L1499.2 346.6 L1500.1 348.2 L1501.0 349.8 L1501.9 351.4 L1502.8 353.1 L1503.6 354.7 L1504.5 356.3 L1505.3 358.0 L1506.1 359.6 L1506.9 361.3 L1507.7 362.9 L1508.5 364.6 L1509.3 366.3 L1510.0 368.0 L1510.8 369.7 L1511.5 371.4 L1512.2 373.1 L1512.9 374.8 L1513.6 376.6 L1514.3 378.3 L1514.9 380.0 L1515.6 381.8 L1516.2 383.5 L1516.9 385.3 L1517.5 387.1 L1518.1 388.9 L1518.7 390.6 L1519.3 392.4 L1519.8 394.2 L1520.4 396.0 L1520.9 397.9 L1521.4 399.7 L1521.9 401.5 L1522.4 403.3 L1522.9 405.2 L1523.4 407.0 L1523.9 408.9 L1524.3 410.7 L1524.7 412.6 L1525.1 414.5 L1525.5 416.4 L1525.9 418.3 L1526.3 420.2 L1526.7 422.1 L1527.0 424.0 L1527.4 425.9 L1527.7 427.8 L1528.0 429.8 L1528.3 431.7 L1528.6 433.6 L1528.9 435.6 L1529.1 437.6 L1529.4 439.5 L1529.6 441.5 L1529.8 443.5 L1530.0 445.5 L1530.2 447.5 L1530.4 449.6 L1530.5 451.6 L1530.7 453.6 L1530.8 455.7 L1530.9 457.8 L1531.0 459.9 L1531.1 462.0 L1531.2 464.1 L1531.3 466.3 L1531.3 468.5 L1531.4 470.7 L1531.4 473.0 L1531.4 475.4 L1531.4 478.0 L1531.4 480.4 L1531.4 482.7 L1531.3 484.9 L1531.3 487.0 L1531.2 489.2 L1531.1 491.3 L1531.0 493.4 L1530.9 495.5 L1530.8 497.6 L1530.6 499.6 L1530.5 501.7 L1530.3 503.7 L1530.1 505.7 L1529.9 507.7 L1529.7 509.7 L1529.5 511.7 L1529.3 513.7 L1529.0 515.7 L1528.8 517.6 L1528.5 519.6 L1528.2 521.5 L1527.9 523.5 L1527.6 525.4 L1527.3 527.3 L1526.9 529.3 L1526.6 531.2 L1526.2 533.1 L1525.8 535.0 L1525.4 536.9 L1525.0 538.7 L1524.6 540.6 L1524.1 542.5 L1523.7 544.3 L1523.2 546.2 L1522.8 548.0 L1522.3 549.9 L1521.8 551.7 L1521.3 553.5 L1520.7 555.3" fill="none" stroke="#08a244" stroke-width="2.5"/>
<path d="M1272.6 265.5 L1273.7 265.5 L1275.0 265.5 L1276.5 265.5 L1278.2 265.5 L1279.6 265.5 L1281.0 265.5 L1281.7 265.5 M1285.9 265.6 L1287.0 265.6 L1288.2 265.7 L1289.4 265.7 L1290.5 265.8 L1291.7 265.8 L1292.9 265.9 L1294.0 265.9 L1295.0 266.0 M1299.2 266.3 L1300.2 266.4 L1301.3 266.5 L1302.4 266.6 L1303.5 266.7 L1304.6 266.8 L1305.6 266.9 L1306.7 267.0 L1307.8 267.1 L1308.3 267.2 M1312.4 267.7 L1313.3 267.8 L1314.4 268.0 L1315.4 268.2 L1316.5 268.3 L1317.5 268.5 L1318.5 268.7 L1319.6 268.8 L1320.6 269.0 L1321.3 269.2 M1325.4 269.9 L1326.1 270.1 L1327.1 270.3 L1328.1 270.5 L1329.1 270.8 L1330.1 271.0 L1331.1 271.2 L1332.1 271.5 L1333.1 271.7 L1334.1 271.9 L1334.1 272.0 M1338.1 273.0 L1338.9 273.2 L1339.9 273.5 L1340.9 273.8 L1341.8 274.1 L1342.8 274.4 L1343.7 274.7 L1344.7 275.0 L1345.6 275.3 L1346.6 275.6 L1346.6 275.6 M1350.4 276.9 L1351.2 277.2 L1352.1 277.5 L1353.1 277.9 L1354.0 278.2 L1354.9 278.6 L1355.8 278.9 L1356.7 279.3 L1357.6 279.6 L1358.5 280.0 L1358.5 280.0 M1362.2 281.6 L1363.0 281.9 L1363.9 282.3 L1364.8 282.7 L1365.7 283.1 L1366.6 283.5 L1367.4 283.9 L1368.3 284.4 L1369.2 284.8 L1370.0 285.2 M1373.5 287.0 L1374.3 287.4 L1375.2 287.9 L1376.0 288.3 L1376.9 288.8 L1377.7 289.3 L1378.6 289.7 L1379.4 290.2 L1380.2 290.7 L1380.9 291.1 M1384.2 293.1 L1384.9 293.6 L1385.7 294.1 L1386.6 294.6 L1387.4 295.1 L1388.2 295.6 L1389.0 296.2 L1389.8 296.7 L1390.5 297.2 L1391.1 297.6 M1394.2 299.8 L1394.8 300.3 L1395.6 300.8 L1396.4 301.4 L1397.1 302.0 L1397.9 302.5 L1398.7 303.1 L1399.4 303.7 L1400.2 304.3 L1400.7 304.7 M1403.5 307.0 L1404.2 307.6 L1405.0 308.2 L1405.7 308.9 L1406.4 309.5 L1407.1 310.1 L1407.9 310.7 L1408.6 311.4 L1409.3 312.0 L1409.6 312.3 M1412.2 314.8 L1412.8 315.3 L1413.5 316.0 L1414.1 316.6 L1414.8 317.3 L1415.5 318.0 L1416.2 318.7 L1416.9 319.3 L1417.5 320.0 L1417.8 320.3 M1420.2 322.9 L1420.8 323.5 L1421.5 324.3 L1422.1 325.0 L1422.7 325.7 L1423.4 326.4 L1424.0 327.1 L1424.6 327.9 L1425.3 328.6 L1425.3 328.7 M1427.6 331.4 L1428.2 332.2 L1428.8 332.9 L1429.4 333.7 L1430.0 334.4 L1430.6 335.2 L1431.1 336.0 L1431.7 336.8 L1432.2 337.4 M1434.3 340.2 L1434.7 340.9 L1435.3 341.7 L1435.8 342.5 L1436.4 343.3 L1436.9 344.1 L1437.5 344.9 L1438.0 345.7 L1438.5 346.5 M1440.3 349.3 L1440.8 350.1 L1441.3 350.9 L1441.8 351.8 L1442.3 352.6 L1442.8 353.5 L1443.3 354.3 L1443.8 355.2 L1444.1 355.7 M1445.8 358.6 L1446.3 359.5 L1446.7 360.4 L1447.2 361.2 L1447.7 362.1 L1448.1 363.0 L1448.6 363.9 L1449.0 364.8 L1449.2 365.1 M1450.7 368.1 L1451.0 368.9 L1451.5 369.8 L1451.9 370.7 L1452.3 371.6 L1452.7 372.5 L1453.1 373.4 L1453.5 374.4 L1453.7 374.7 M1455.0 377.8 L1455.3 378.6 L1455.7 379.5 L1456.1 380.5 L1456.5 381.4 L1456.8 382.4 L1457.2 383.3 L1457.6 384.3 L1457.6 384.5 M1458.8 387.5 L1459.1 388.4 L1459.4 389.4 L1459.8 390.4 L1460.1 391.3 L1460.4 392.3 L1460.8 393.3 L1461.1 394.3 L1461.1 394.3 M1462.1 397.4 L1462.3 398.3 L1462.6 399.3 L1462.9 400.3 L1463.2 401.3 L1463.5 402.3 L1463.8 403.4 L1464.0 404.3 M1464.8 407.4 L1465.0 408.3 L1465.3 409.3 L1465.6 410.3 L1465.8 411.4 L1466.0 412.4 L1466.3 413.5 L1466.5 414.3 M1467.1 417.4 L1467.4 418.5 L1467.6 419.6 L1467.8 420.6 L1468.0 421.7 L1468.2 422.8 L1468.4 423.9 L1468.5 424.4 M1469.0 427.5 L1469.2 428.5 L1469.3 429.6 L1469.5 430.7 L1469.7 431.8 L1469.8 432.9 L1470.0 434.1 L1470.1 434.5 M1470.5 437.7 L1470.6 438.6 L1470.7 439.7 L1470.8 440.8 L1471.0 442.0 L1471.1 443.1 L1471.2 444.3 L1471.2 444.7 M1471.5 447.9 L1471.6 449.0 L1471.7 450.2 L1471.8 451.3 L1471.9 452.5 L1471.9 453.7 L1472.0 454.8 M1472.2 458.0 L1472.2 459.2 L1472.3 460.5 L1472.4 461.7 L1472.4 463.0 L1472.4 464.3 L1472.5 465.0 M1472.5 468.2 L1472.6 469.6 L1472.6 470.9 L1472.6 472.3 L1472.6 473.8 L1472.6 475.2 M1472.6 478.4 L1472.6 479.9 L1472.6 481.3 L1472.6 482.7 L1472.5 484.1 L1472.5 485.4 L1472.5 485.4 M1472.4 488.6 L1472.4 489.6 L1472.4 490.9 L1472.3 492.1 L1472.2 493.4 L1472.2 494.6 L1472.1 495.6 M1472.0 498.8 L1471.9 499.8 L1471.8 501.0 L1471.7 502.1 L1471.6 503.3 L1471.5 504.5 L1471.4 505.7 L1471.4 505.8 M1471.1 509.0 L1471.0 510.0 L1470.9 511.2 L1470.8 512.3 L1470.6 513.5 L1470.5 514.6 L1470.4 515.7 L1470.3 516.0 M1469.9 519.2 L1469.8 520.2 L1469.6 521.3 L1469.4 522.4 L1469.3 523.5 L1469.1 524.6 L1468.9 525.7 L1468.8 526.1 M1468.3 529.3 L1468.1 530.3 L1467.9 531.4 L1467.7 532.5 L1467.5 533.6 L1467.3 534.6 L1467.0 535.7 L1466.9 536.2 M1466.2 539.4 L1466.0 540.2 L1465.8 541.2 L1465.6 542.3 L1465.3 543.3 L1465.0 544.3 L1464.8 545.4 L1464.7 545.9" fill="none" stroke="#08a244" stroke-width="2.5"/>
<path d="M1268.3 106.1 L1271.7 106.0 L1275.1 106.0 L1278.5 106.0 L1281.9 106.0 L1285.3 106.1 L1288.7 106.1 L1292.0 106.2 L1295.3 106.3 L1298.7 106.4 L1302.0 106.6 L1305.3 106.7 L1308.6 106.9 L1311.9 107.1 L1315.2 107.4 L1318.5 107.6 L1321.8 107.9 L1325.1 108.2 L1328.4 108.5 L1331.6 108.8 L1334.9 109.2 L1338.2 109.5 L1341.4 109.9 L1344.7 110.3 L1347.9 110.8 L1351.2 111.2 L1354.4 111.7 L1357.7 112.2 L1360.9 112.7 L1364.1 113.3 L1367.3 113.8 L1370.5 114.4 L1373.7 115.0 L1376.9 115.6 L1380.1 116.3 L1383.3 116.9 L1386.5 117.6 L1389.6 118.3 L1392.8 119.0 L1396.0 119.8 L1399.1 120.5 L1402.2 121.3 L1405.4 122.1 L1408.5 122.9 L1411.6 123.8 L1414.7 124.7 L1417.8 125.5 L1420.9 126.4 L1424.0 127.4 L1427.0 128.3 L1430.1 129.3 L1433.2 130.3 L1436.2 131.3 L1439.2 132.3 L1442.3 133.3 L1445.3 134.4 L1448.3 135.5 L1451.3 136.6 L1454.3 137.7 L1457.2 138.8 L1460.2 140.0 L1463.1 141.2 L1466.1 142.3 L1469.0 143.6 L1471.9 144.8 L1474.8 146.0 L1477.7 147.3 L1480.6 148.6 L1483.5 149.9 L1486.3 151.2 L1489.2 152.6 L1492.0 153.9 L1494.8 155.3 L1497.6 156.7 L1500.4 158.1 L1503.2 159.6 L1506.0 161.0 L1508.8 162.5 L1511.5 164.0 L1514.2 165.5 L1516.9 167.0 L1519.6 168.6 L1522.3 170.1 L1525.0 171.7 L1527.7 173.3 L1530.3 174.9 L1532.9 176.5 L1535.6 178.2 L1538.2 179.9 L1540.7 181.5 L1543.3 183.2 L1545.9 185.0 L1548.4 186.7 L1550.9 188.4 L1553.4 190.2 L1555.9 192.0 L1558.4 193.8 L1560.9 195.6 L1563.3 197.4 L1565.7 199.3 L1568.2 201.1 L1570.6 203.0 L1572.9 204.9 L1575.3 206.8 L1577.6 208.7 L1580.0 210.6 L1582.3 212.6 L1584.6 214.6 L1586.8 216.5 L1589.1 218.5 L1591.3 220.6 L1593.6 222.6 L1595.8 224.6 L1597.9 226.7 L1600.1 228.8 L1602.3 230.8 L1604.4 232.9 L1606.5 235.0 L1608.6 237.2 L1610.7 239.3 L1612.7 241.5 L1614.7 243.6 L1616.8 245.8 L1618.8 248.0 L1620.7 250.2 L1622.7 252.4 L1624.6 254.7 L1626.6 256.9 L1628.4 259.2 L1630.3 261.4 L1632.2 263.7 L1634.0 266.0 L1635.8 268.3 L1637.6 270.6 L1639.4 273.0 L1641.2 275.3 L1642.9 277.7 L1644.6 280.0 L1646.3 282.4 L1648.0 284.8 L1649.6 287.2 L1651.3 289.6 L1652.9 292.0 L1654.5 294.5 L1656.0 296.9 L1657.6 299.4 L1659.1 301.8 L1660.6 304.3 L1662.1 306.8 L1663.5 309.3 L1665.0 311.8 L1666.4 314.3 L1667.8 316.8 L1669.1 319.4 L1670.5 321.9 L1671.8 324.5 L1673.1 327.0 L1674.4 329.6 L1675.7 332.2 L1676.9 334.8 L1678.1 337.4 L1679.3 340.0 L1680.5 342.6 L1681.6 345.2 L1682.7 347.8 L1683.8 350.5 L1684.9 353.1 L1686.0 355.8 L1687.0 358.4 L1688.0 361.1 L1689.0 363.7 L1689.9 366.4 L1690.9 369.1 L1691.8 371.8 L1692.7 374.5 L1693.5 377.2 L1694.4 379.9 L1695.2 382.6 L1696.0 385.4 L1696.8 388.1 L1697.5 390.8 L1698.2 393.6 L1698.9 396.3 L1699.6 399.1 L1700.3 401.8 L1700.9 404.6 L1701.5 407.4 L1702.1 410.2 L1702.6 412.9 L1703.2 415.7 L1703.7 418.5 L1704.1 421.3 L1704.6 424.1 L1705.0 426.9 L1705.4 429.7 L1705.8 432.5 L1706.2 435.3 L1706.5 438.2 L1706.8 441.0 L1707.1 443.8 L1707.4 446.6 L1707.6 449.5 L1707.9 452.3 L1708.0 455.2 L1708.2 458.0 L1708.4 460.9 L1708.5 463.7 L1708.6 466.6 L1708.6 469.5 L1708.7 472.4 L1708.7 475.3 L1708.7 478.3 L1708.7 481.2 L1708.6 484.1 L1708.5 486.9 L1708.4 489.8 L1708.3 492.7 L1708.2 495.5 L1708.0 498.4 L1707.8 501.2 L1707.6 504.1 L1707.3 506.9 L1707.0 509.7 L1706.7 512.6 L1706.4 515.4 L1706.1 518.2 L1705.7 521.0 L1705.3 523.8 L1704.9 526.6 L1704.5 529.4 L1704.0 532.2 L1703.5 535.0 L1703.0 537.8 L1702.4 540.6 L1701.9 543.4 L1701.3 546.1 L1700.7 548.9 L1700.0 551.7 L1699.4 554.4 L1698.7 557.2 L1698.0 559.9 L1697.3 562.7 L1696.5 565.4 L1695.7 568.1 L1694.9 570.9 L1694.1 573.6 L1693.3 576.3 L1692.4 579.0 L1691.5 581.7 L1690.6 584.4 L1689.6 587.1" fill="none" stroke="#4b1196" stroke-width="2.5"/>
<path d="M1267.7 84.3 L1270.1 84.2 L1271.5 84.2 M1275.7 84.2 L1278.0 84.2 L1280.4 84.2 L1282.9 84.2 L1284.8 84.2 M1289.0 84.3 L1291.3 84.4 L1293.7 84.4 L1296.0 84.5 L1298.1 84.6 M1302.3 84.7 L1304.4 84.8 L1306.7 84.9 L1309.1 85.1 L1311.4 85.2 M1315.6 85.5 L1317.4 85.6 L1319.7 85.8 L1322.1 85.9 L1324.4 86.1 L1324.7 86.2 M1328.8 86.5 L1330.9 86.7 L1333.2 86.9 L1335.6 87.2 L1337.9 87.4 L1337.9 87.4 M1342.0 87.9 L1344.3 88.1 L1346.6 88.4 L1349.0 88.7 L1351.1 89.0 M1355.2 89.5 L1357.1 89.8 L1359.4 90.2 L1361.7 90.5 L1364.0 90.9 L1364.1 90.9 M1368.2 91.5 L1370.4 91.9 L1372.7 92.3 L1375.0 92.7 L1377.2 93.1 M1381.2 93.8 L1383.0 94.2 L1385.2 94.6 L1387.5 95.1 L1389.8 95.5 L1390.1 95.6 M1394.1 96.4 L1396.0 96.9 L1398.3 97.4 L1400.6 97.9 L1402.8 98.4 L1402.9 98.4 M1406.9 99.3 L1409.0 99.9 L1411.2 100.4 L1413.5 101.0 L1415.5 101.5 M1419.5 102.6 L1421.3 103.0 L1423.5 103.6 L1425.7 104.3 L1427.9 104.9 L1428.1 104.9 M1432.0 106.1 L1434.0 106.7 L1436.2 107.3 L1438.4 108.0 L1440.5 108.6 M1444.4 109.9 L1446.0 110.4 L1448.2 111.1 L1450.4 111.8 L1452.5 112.6 L1452.7 112.6 M1456.6 114.0 L1458.5 114.6 L1460.6 115.4 L1462.7 116.2 L1464.8 116.9 M1468.6 118.3 L1470.2 118.9 L1472.3 119.8 L1474.4 120.6 L1476.5 121.4 L1476.7 121.5 M1480.4 123.0 L1482.3 123.8 L1484.4 124.6 L1486.5 125.5 L1488.5 126.3 M1492.1 127.9 L1493.7 128.6 L1495.8 129.5 L1497.8 130.5 L1499.9 131.4 L1500.0 131.5 M1503.6 133.1 L1505.5 134.0 L1507.5 135.0 L1509.5 135.9 L1511.3 136.8 M1514.8 138.6 L1516.5 139.4 L1518.5 140.4 L1520.5 141.4 L1522.4 142.4 M1525.9 144.3 L1527.4 145.1 L1529.4 146.1 L1531.3 147.2 L1533.3 148.3 L1533.3 148.3 M1536.7 150.2 L1538.6 151.3 L1540.5 152.4 L1542.4 153.5 L1544.0 154.4 M1547.3 156.4 L1549.0 157.5 L1550.9 158.6 L1552.8 159.8 L1554.4 160.8 M1557.6 162.8 L1559.3 163.9 L1561.1 165.1 L1563.0 166.3 L1564.6 167.4 M1567.7 169.5 L1569.3 170.6 L1571.1 171.8 L1572.9 173.0 L1574.5 174.2 M1577.6 176.3 L1579.1 177.5 L1580.9 178.7 L1582.6 180.0 L1584.2 181.2 M1587.2 183.4 L1588.7 184.6 L1590.4 185.9 L1592.1 187.2 L1593.6 188.4 M1596.5 190.7 L1598.0 191.9 L1599.7 193.3 L1601.4 194.7 L1602.7 195.8 M1605.5 198.2 L1607.1 199.5 L1608.7 200.9 L1610.4 202.3 L1611.6 203.4 M1614.3 205.8 L1615.6 206.9 L1617.1 208.4 L1618.7 209.8 L1620.2 211.2 M1622.8 213.7 L1624.1 214.9 L1625.7 216.4 L1627.2 217.9 L1628.5 219.2 M1631.1 221.7 L1632.5 223.1 L1634.0 224.6 L1635.4 226.1 L1636.6 227.3 M1639.0 229.9 L1640.2 231.1 L1641.6 232.6 L1643.0 234.2 L1644.3 235.6 M1646.7 238.2 L1647.9 239.6 L1649.3 241.2 L1650.7 242.8 L1651.8 244.0 M1654.0 246.7 L1655.1 248.0 L1656.4 249.6 L1657.8 251.2 L1658.9 252.6 M1661.1 255.4 L1662.3 256.9 L1663.6 258.5 L1664.9 260.2 L1665.8 261.4 M1667.9 264.1 L1669.0 265.6 L1670.2 267.2 L1671.4 268.9 L1672.4 270.2 M1674.4 273.1 L1675.3 274.4 L1676.5 276.1 L1677.6 277.8 L1678.6 279.2 M1680.5 282.1 L1681.7 283.8 L1682.8 285.5 L1683.9 287.2 L1684.6 288.4 M1686.4 291.2 L1687.4 292.9 L1688.5 294.6 L1689.6 296.4 L1690.3 297.6 M1692.0 300.5 L1692.9 302.1 L1693.9 303.9 L1694.9 305.7 L1695.6 306.9 M1697.3 309.9 L1698.1 311.5 L1699.1 313.3 L1700.0 315.1 L1700.7 316.4 M1702.2 319.3 L1703.0 321.0 L1703.9 322.8 L1704.8 324.6 L1705.5 325.9 M1706.9 328.9 L1707.6 330.6 L1708.5 332.4 L1709.3 334.2 L1709.9 335.5 M1711.2 338.5 L1712.0 340.3 L1712.7 342.1 L1713.5 344.0 L1714.0 345.2 M1715.3 348.3 L1716.0 350.1 L1716.7 351.9 L1717.4 353.8 L1717.9 355.0 M1719.0 358.1 L1719.5 359.5 L1720.2 361.4 L1720.8 363.3 L1721.4 364.8 M1722.4 367.9 L1722.9 369.5 L1723.5 371.4 L1724.1 373.3 L1724.6 374.7 M1725.5 377.8 L1726.0 379.5 L1726.6 381.5 L1727.1 383.4 L1727.5 384.7 M1728.3 387.8 L1728.8 389.7 L1729.3 391.6 L1729.8 393.6 L1730.1 394.7 M1730.8 397.8 L1731.2 399.4 L1731.6 401.4 L1732.1 403.3 L1732.4 404.7 M1733.0 407.9 L1733.4 409.7 L1733.8 411.7 L1734.1 413.6 L1734.3 414.8 M1734.9 418.0 L1735.2 419.5 L1735.5 421.5 L1735.8 423.5 L1736.0 424.9 M1736.5 428.1 L1736.7 429.9 L1737.0 431.9 L1737.2 433.9 L1737.4 435.1 M1737.7 438.3 L1737.9 439.9 L1738.1 441.9 L1738.3 443.9 L1738.4 445.2 M1738.7 448.4 L1738.9 450.4 L1739.0 452.4 L1739.1 454.4 L1739.2 455.4 M1739.4 458.6 L1739.5 460.5 L1739.5 462.5 L1739.6 464.5 L1739.6 465.6 M1739.7 468.8 L1739.8 470.6 L1739.8 472.7 L1739.8 474.7 L1739.8 475.8 M1739.8 479.0 L1739.8 480.9 L1739.7 483.0 L1739.7 485.0 L1739.7 486.0 M1739.6 489.2 L1739.5 491.1 L1739.4 493.1 L1739.3 495.1 L1739.2 496.2 M1739.0 499.4 L1738.9 501.2 L1738.8 503.2 L1738.6 505.2 L1738.5 506.4 M1738.2 509.6 L1738.1 511.2 L1737.9 513.2 L1737.6 515.2 L1737.5 516.6 M1737.1 519.8 L1736.9 521.7 L1736.6 523.6 L1736.3 525.6 L1736.2 526.7 M1735.7 529.9 L1735.4 531.6 L1735.1 533.5 L1734.7 535.5 L1734.5 536.8 M1733.9 540.0 L1733.6 541.9 L1733.2 543.9 L1732.8 545.8 L1732.6 546.9 M1731.9 550.1 L1731.5 551.7 L1731.1 553.7 L1730.6 555.6 L1730.3 557.0 M1729.5 560.1 L1729.1 561.9 L1728.6 563.9 L1728.1 565.8 L1727.7 567.0 M1726.9 570.1 L1726.5 571.6 L1725.9 573.5 L1725.3 575.5 L1724.9 576.9 M1723.9 580.1 L1723.4 581.7 L1722.8 583.6 L1722.1 585.5 L1721.7 586.9 M1720.6 589.9 L1720.0 591.7 L1719.3 593.6" fill="none" stroke="#4b1196" stroke-width="2.5"/>
<path d="M1277.30 476.20 L1775.00 476.20" stroke="#000" stroke-width="1.5" stroke-dasharray="4.4 2.2" fill="none"/>
<path d="M1362.30 478.20 L1362.30 93.00" stroke="#000" stroke-width="1.55" stroke-dasharray="5.3 2.7" fill="none"/>
<path d="M1449.40 476.20 L1449.40 140.00" stroke="#000" stroke-width="1.55" stroke-dasharray="5.3 2.7" fill="none"/>
<path d="M1510.90 476.20 L1510.90 363.60" stroke="#000" stroke-width="1.55" stroke-dasharray="5.3 2.7" fill="none"/>
<path d="M1597.80 476.20 L1597.80 360.00" stroke="#000" stroke-width="1.55" stroke-dasharray="5.3 2.7" fill="none"/>
<path d="M1277.30 476.30 L1359.25 106.40" stroke="#6a2aa8" stroke-width="1.4" fill="none" stroke-dasharray="5.3 2.7"/>
<path d="M1362.30 92.60 L1352.30 104.90 L1366.20 107.90 Z" fill="#7636a6"/>
<path d="M1277.30 476.30 L1442.40 152.00" stroke="#5a1d9e" stroke-width="1.6" fill="none"/>
<path d="M1449.40 139.70 L1435.90 148.70 L1448.90 155.30 Z" fill="#7636a6"/>
<path d="M1277.30 476.30 L1462.90 222.15" stroke="#2a5bc8" stroke-width="1.6" fill="none"/>
<path d="M1470.90 211.30 L1457.30 218.20 L1468.50 226.10 Z" fill="#4170c6"/>
<path d="M1277.30 476.30 L1497.40 370.35" stroke="#0aa648" stroke-width="1.6" fill="none"/>
<path d="M1509.80 364.20 L1494.30 364.20 L1500.50 376.50 Z" fill="#12b152"/>
<path d="M1460.00 473.70 L1500.00 473.70" stroke="#ff0000" stroke-width="1.6"/>
<path d="M1449.50 473.80 L1464.30 466.90 L1464.30 480.90 Z" fill="#ff0000"/>
<path d="M1511.00 473.80 L1496.30 466.90 L1496.30 480.90 Z" fill="#ff0000"/>
<path d="M1375.00 479.00 L1585.00 479.00" stroke="#ff0000" stroke-width="1.4" stroke-dasharray="3.0 1.7"/>
<path d="M1362.20 479.20 L1377.30 471.80 L1377.30 486.70 Z" fill="#ff0000"/>
<path d="M1597.70 479.20 L1582.70 471.80 L1582.70 486.70 Z" fill="#ff0000"/>
<path d="M1591.8 353.0 L1604.4 365.6 M1604.4 353.0 L1591.8 365.6" stroke="#000" stroke-width="2.3" fill="none"/>
</g>
<g stroke="#000" fill="none">
<path d="M1277.4 62.9 L1277.4 511.5" stroke-width="2.4"/>
<path d="M1277.4 510.5 L1775 510.5" stroke-width="2.1"/>
<path d="M1277.4 63.5 L1775 63.5" stroke-width="1.15" stroke="#1a1a1a"/>
<path d="M1772.0 63.5 L1772.0 510.5" stroke-width="2.4"/>
<path d="M1277.30 510.5 L1277.30 519.40" stroke-width="2.3"/>
<path d="M1277.4 476.30 L1268.4 476.30" stroke-width="1.9"/>
<path d="M1389.72 510.5 L1389.72 519.40" stroke-width="2.3"/>
<path d="M1277.4 390.20 L1268.4 390.20" stroke-width="1.9"/>
<path d="M1502.15 510.5 L1502.15 519.40" stroke-width="2.3"/>
<path d="M1277.4 304.10 L1268.4 304.10" stroke-width="1.9"/>
<path d="M1614.57 510.5 L1614.57 519.40" stroke-width="2.3"/>
<path d="M1277.4 218.00 L1268.4 218.00" stroke-width="1.9"/>
<path d="M1727.00 510.5 L1727.00 519.40" stroke-width="2.3"/>
<path d="M1277.4 131.90 L1268.4 131.90" stroke-width="1.9"/>
</g>
<text x="1277.30" y="543.90" font-size="20.5" text-anchor="middle" font-weight="normal" font-style="normal" fill="#000" >0</text>
<text x="1259.00" y="483.60" font-size="20.5" text-anchor="end" font-weight="normal" font-style="normal" fill="#000" >0</text>
<text x="1389.72" y="543.90" font-size="20.5" text-anchor="middle" font-weight="normal" font-style="normal" fill="#000" >50</text>
<text x="1259.00" y="397.50" font-size="20.5" text-anchor="end" font-weight="normal" font-style="normal" fill="#000" >50</text>
<text x="1502.15" y="543.90" font-size="20.5" text-anchor="middle" font-weight="normal" font-style="normal" fill="#000" >100</text>
<text x="1259.00" y="311.40" font-size="20.5" text-anchor="end" font-weight="normal" font-style="normal" fill="#000" >100</text>
<text x="1614.57" y="543.90" font-size="20.5" text-anchor="middle" font-weight="normal" font-style="normal" fill="#000" >150</text>
<text x="1259.00" y="225.30" font-size="20.5" text-anchor="end" font-weight="normal" font-style="normal" fill="#000" >150</text>
<text x="1727.00" y="543.90" font-size="20.5" text-anchor="middle" font-weight="normal" font-style="normal" fill="#000" >200</text>
<text x="1259.00" y="139.20" font-size="20.5" text-anchor="end" font-weight="normal" font-style="normal" fill="#000" >200</text>
<text x="1757.00" y="101.20" font-size="27.8" text-anchor="end" font-weight="bold" font-style="normal" fill="#000" >(c)</text>
<text x="1524.45" y="572.80" font-size="20.4" text-anchor="middle" font-weight="normal" font-style="normal" fill="#000" ><tspan font-style="italic">k</tspan><tspan font-style="italic" font-size="14.3" dy="3.4">x</tspan><tspan dy="-3.4"> (rad/µm)</tspan></text>
<g transform="translate(1201,287.00) rotate(-90)">
<text x="0.00" y="0.00" font-size="20.4" text-anchor="middle" font-weight="normal" font-style="normal" fill="#000" ><tspan font-style="italic">k</tspan><tspan font-style="italic" font-size="14.3" dy="3.4">y</tspan><tspan dy="-3.4"> (rad/µm)</tspan></text>
</g>
<text x="1295.00" y="220.00" font-size="21.5" text-anchor="start" font-weight="normal" font-style="italic" fill="#000" >f-ν</text>
<text x="1289.00" y="292.70" font-size="21.5" text-anchor="start" font-weight="normal" font-style="italic" fill="#000" >f-ν'</text>
<text x="1715.50" y="324.00" font-size="21.5" text-anchor="start" font-weight="normal" font-style="italic" fill="#000" textLength="38" lengthAdjust="spacing">f+ν'</text>
<text x="1651.30" y="379.40" font-size="21.5" text-anchor="start" font-weight="normal" font-style="italic" fill="#000" textLength="34.5" lengthAdjust="spacing">f+ν</text>
<text x="1642.00" y="438.30" font-size="22.5" text-anchor="start" font-weight="normal" font-style="italic" fill="#000" >f</text>
<text x="1433.00" y="469.20" font-size="21.5" text-anchor="start" font-weight="normal" font-style="italic" fill="#000" >κ</text>
<text x="1512.80" y="469.20" font-size="21.5" text-anchor="start" font-weight="normal" font-style="italic" fill="#000" >-κ</text>
<text x="1345.00" y="498.00" font-size="21.5" text-anchor="start" font-weight="normal" font-style="italic" fill="#000" >κ'</text>
<text x="1598.40" y="498.00" font-size="21.5" text-anchor="start" font-weight="normal" font-style="italic" fill="#000" >-κ'</text>
<text x="1325.20" y="133.90" font-size="22" text-anchor="start" font-weight="bold" font-style="normal" fill="#000" style="font-family:Liberation Sans,Arial,sans-serif" textLength="10.5" lengthAdjust="spacingAndGlyphs" stroke="#000" stroke-width="0.35">k</text>
<text x="1337.20" y="133.90" font-size="22" text-anchor="start" font-weight="normal" font-style="normal" fill="#000" style="font-family:Liberation Sans,Arial,sans-serif">'</text>
<text x="1342.20" y="139.40" font-size="14.5" text-anchor="start" font-weight="normal" font-style="normal" fill="#000" style="font-family:Liberation Sans,Arial,sans-serif" stroke="#000" stroke-width="0.3">c</text>
<text x="1458.30" y="171.80" font-size="22" text-anchor="start" font-weight="bold" font-style="normal" fill="#000" style="font-family:Liberation Sans,Arial,sans-serif" textLength="10.5" lengthAdjust="spacingAndGlyphs" stroke="#000" stroke-width="0.35">k</text>
<text x="1469.80" y="177.90" font-size="14.5" text-anchor="start" font-weight="normal" font-style="normal" fill="#000" style="font-family:Liberation Sans,Arial,sans-serif" stroke="#000" stroke-width="0.3">c</text>
<text x="1467.80" y="251.80" font-size="22" text-anchor="start" font-weight="bold" font-style="normal" fill="#000" style="font-family:Liberation Sans,Arial,sans-serif" textLength="10.5" lengthAdjust="spacingAndGlyphs" stroke="#000" stroke-width="0.35">k</text>
<text x="1479.00" y="258.10" font-size="14.5" text-anchor="start" font-weight="normal" font-style="normal" fill="#000" style="font-family:Liberation Sans,Arial,sans-serif" stroke="#000" stroke-width="0.3">r</text>
<text x="1528.30" y="375.80" font-size="22" text-anchor="start" font-weight="bold" font-style="normal" fill="#000" style="font-family:Liberation Sans,Arial,sans-serif" textLength="10.5" lengthAdjust="spacingAndGlyphs" stroke="#000" stroke-width="0.35">k</text>
<text x="1539.00" y="381.80" font-size="14.5" text-anchor="start" font-weight="normal" font-style="normal" fill="#000" style="font-family:Liberation Sans,Arial,sans-serif" stroke="#000" stroke-width="0.3">s</text>
</svg>
</body></html>
